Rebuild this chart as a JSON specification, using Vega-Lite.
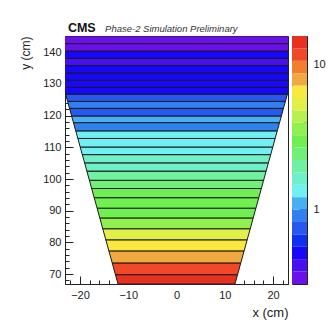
{
  "$schema": "https://vega.github.io/schema/vega-lite/v6.json",
  "background": "white",
  "padding": {"left": 19, "top": 21, "right": 0, "bottom": 0},
  "spacing": 2,
  "config": {
    "font": "Liberation Sans",
    "view": {"stroke": "#222", "strokeWidth": 1},
    "axis": {"zindex": 1, "labelOverlap": false, "labelFont": "Liberation Sans", "titleFont": "Liberation Sans", "labelColor": "#222", "titleColor": "#222", "tickColor": "#222", "domainColor": "#222", "grid": false}
  },
  "hconcat": [
    {
      "width": 223,
      "height": 248,
      "resolve": {"axis": {"x": "independent", "y": "independent"}},
      "layer": [
        {
          "data": {"values": [
            {"band": 29, "y": 66.85, "xl": -12.11, "xr": 12.11, "v": 14.3},
            {"band": 29, "y": 69.8, "xl": -12.65, "xr": 12.65, "v": 14.3},
            {"band": 28, "y": 69.8, "xl": -12.65, "xr": 12.65, "v": 11.7},
            {"band": 28, "y": 73.5, "xl": -13.32, "xr": 13.32, "v": 11.7},
            {"band": 27, "y": 73.5, "xl": -13.32, "xr": 13.32, "v": 7.9},
            {"band": 27, "y": 77.3, "xl": -14.01, "xr": 14.01, "v": 7.9},
            {"band": 26, "y": 77.3, "xl": -14.01, "xr": 14.01, "v": 6.5},
            {"band": 26, "y": 80.8, "xl": -14.64, "xr": 14.64, "v": 6.5},
            {"band": 25, "y": 80.8, "xl": -14.64, "xr": 14.64, "v": 5.3},
            {"band": 25, "y": 84.3, "xl": -15.28, "xr": 15.28, "v": 5.3},
            {"band": 24, "y": 84.3, "xl": -15.28, "xr": 15.28, "v": 3.6},
            {"band": 24, "y": 87.7, "xl": -15.89, "xr": 15.89, "v": 3.6},
            {"band": 23, "y": 87.7, "xl": -15.89, "xr": 15.89, "v": 3.1},
            {"band": 23, "y": 90.8, "xl": -16.45, "xr": 16.45, "v": 3.1},
            {"band": 22, "y": 90.8, "xl": -16.45, "xr": 16.45, "v": 3.0},
            {"band": 22, "y": 94.1, "xl": -17.05, "xr": 17.05, "v": 3.0},
            {"band": 21, "y": 94.1, "xl": -17.05, "xr": 17.05, "v": 2.9},
            {"band": 21, "y": 97.0, "xl": -17.58, "xr": 17.58, "v": 2.9},
            {"band": 20, "y": 97.0, "xl": -17.58, "xr": 17.58, "v": 2.5},
            {"band": 20, "y": 99.6, "xl": -18.05, "xr": 18.05, "v": 2.5},
            {"band": 19, "y": 99.6, "xl": -18.05, "xr": 18.05, "v": 2.0},
            {"band": 19, "y": 102.5, "xl": -18.57, "xr": 18.57, "v": 2.0},
            {"band": 18, "y": 102.5, "xl": -18.57, "xr": 18.57, "v": 1.62},
            {"band": 18, "y": 105.1, "xl": -19.04, "xr": 19.04, "v": 1.62},
            {"band": 17, "y": 105.1, "xl": -19.04, "xr": 19.04, "v": 1.65},
            {"band": 17, "y": 107.7, "xl": -19.52, "xr": 19.52, "v": 1.65},
            {"band": 16, "y": 107.7, "xl": -19.52, "xr": 19.52, "v": 1.3},
            {"band": 16, "y": 110.1, "xl": -19.95, "xr": 19.95, "v": 1.3},
            {"band": 15, "y": 110.1, "xl": -19.95, "xr": 19.95, "v": 1.4},
            {"band": 15, "y": 112.8, "xl": -20.44, "xr": 20.44, "v": 1.4},
            {"band": 14, "y": 112.8, "xl": -20.44, "xr": 20.44, "v": 1.35},
            {"band": 14, "y": 115.2, "xl": -20.87, "xr": 20.87, "v": 1.35},
            {"band": 13, "y": 115.2, "xl": -20.87, "xr": 20.87, "v": 0.92},
            {"band": 13, "y": 117.8, "xl": -21.35, "xr": 21.35, "v": 0.92},
            {"band": 12, "y": 117.8, "xl": -21.35, "xr": 21.35, "v": 1.1},
            {"band": 12, "y": 119.9, "xl": -21.73, "xr": 21.73, "v": 1.1},
            {"band": 11, "y": 119.9, "xl": -21.73, "xr": 21.73, "v": 0.75},
            {"band": 11, "y": 122.3, "xl": -22.16, "xr": 22.16, "v": 0.75},
            {"band": 10, "y": 122.3, "xl": -22.16, "xr": 22.16, "v": 0.9},
            {"band": 10, "y": 124.5, "xl": -22.56, "xr": 22.56, "v": 0.9},
            {"band": 9, "y": 124.5, "xl": -22.56, "xr": 22.56, "v": 0.74},
            {"band": 9, "y": 126.8, "xl": -22.98, "xr": 22.98, "v": 0.74},
            {"band": 8, "y": 126.8, "xl": -22.98, "xr": 22.98, "v": 0.55},
            {"band": 8, "y": 128.9, "xl": -23.36, "xr": 23.36, "v": 0.55},
            {"band": 7, "y": 128.9, "xl": -23.36, "xr": 23.36, "v": 0.51},
            {"band": 7, "y": 131.2, "xl": -23.77, "xr": 23.77, "v": 0.51},
            {"band": 6, "y": 131.2, "xl": -23.77, "xr": 23.77, "v": 0.52},
            {"band": 6, "y": 133.5, "xl": -24.19, "xr": 24.19, "v": 0.52},
            {"band": 5, "y": 133.5, "xl": -24.19, "xr": 24.19, "v": 0.5},
            {"band": 5, "y": 135.8, "xl": -24.61, "xr": 24.61, "v": 0.5},
            {"band": 4, "y": 135.8, "xl": -24.61, "xr": 24.61, "v": 0.41},
            {"band": 4, "y": 138.1, "xl": -25.02, "xr": 25.02, "v": 0.41},
            {"band": 3, "y": 138.1, "xl": -25.02, "xr": 25.02, "v": 0.5},
            {"band": 3, "y": 140.4, "xl": -25.44, "xr": 25.44, "v": 0.5},
            {"band": 2, "y": 140.4, "xl": -25.44, "xr": 25.44, "v": 0.35},
            {"band": 2, "y": 142.75, "xl": -25.87, "xr": 25.87, "v": 0.35},
            {"band": 1, "y": 142.75, "xl": -25.87, "xr": 25.87, "v": 0.34},
            {"band": 1, "y": 145.15, "xl": -26.3, "xr": 26.3, "v": 0.34}
          ]},
          "mark": {"type": "area", "orient": "horizontal", "clip": true, "stroke": "#1a1a1a", "strokeWidth": 1, "opacity": 1},
          "encoding": {
            "y": {"field": "y", "type": "quantitative", "scale": {"domain": [66.85, 145.15], "nice": false, "zero": false},
              "axis": {"title": "y (cm)", "titleAnchor": "end", "titleFontSize": 12, "titleFontWeight": "normal", "titlePadding": 10,
                "values": [68,70,72,74,76,78,80,82,84,86,88,90,92,94,96,98,100,102,104,106,108,110,112,114,116,118,120,122,124,126,128,130,132,134,136,138,140,142,144],
                "labelExpr": "datum.value % 10 === 0 ? datum.label : ''", "labelOverlap": false, "labelFontSize": 11, "labelPadding": 12,
                "tickSize": {"condition": {"test": "datum.value % 10 === 0", "value": -8}, "value": -4}}},
            "x": {"field": "xl", "type": "quantitative", "scale": {"domain": [-23.1, 23.1], "nice": false, "zero": false},
              "axis": {"title": "x (cm)", "titleAnchor": "end", "titleFontSize": 13, "titleFontWeight": "normal", "titlePadding": 2,
                "values": [-22,-20,-18,-16,-14,-12,-10,-8,-6,-4,-2,0,2,4,6,8,10,12,14,16,18,20,22],
                "labelExpr": "datum.value % 10 === 0 ? datum.label : ''", "labelOverlap": false, "labelFontSize": 11, "labelPadding": 13,
                "tickSize": {"condition": {"test": "datum.value % 10 === 0", "value": -8}, "value": -4}}},
            "x2": {"field": "xr"},
            "detail": {"field": "band"},
            "color": {"field": "v", "type": "quantitative", "legend": null,
              "scale": {"type": "threshold",
                "domain": [0.3727,0.4541,0.5529,0.6733,0.8198,0.9981,1.2153,1.4799,1.802,2.1942,2.6718,3.2533,3.9614,4.8236,5.8735,7.1518,8.7085,10.604,12.912],
                "range": ["#6a10e8","#4810f0","#1808f8","#1030f0","#2858f0","#3080f0","#48b0f0","#70f0f0","#70f0c8","#70f0a0","#70f078","#70f050","#90f050","#b8f050","#e0f048","#f8e840","#f0a840","#f08030","#f04828","#e83020"]}}
          }
        },
        {
          "data": {"values": [{"label": "CMS"}]},
          "mark": {"type": "text", "clip": false, "align": "left", "baseline": "alphabetic", "fontWeight": "bold", "fontSize": 12.5, "color": "#111"},
          "encoding": {
            "x": {"datum": -22.5, "type": "quantitative", "axis": null},
            "y": {"datum": 146.3, "type": "quantitative", "axis": null},
            "text": {"field": "label"}
          }
        },
        {
          "data": {"values": [{"label": "Phase-2 Simulation Preliminary"}]},
          "mark": {"type": "text", "clip": false, "align": "left", "baseline": "alphabetic", "fontStyle": "italic", "fontSize": 9.5, "color": "#333"},
          "encoding": {
            "x": {"datum": -14.8, "type": "quantitative", "axis": null},
            "y": {"datum": 146.3, "type": "quantitative", "axis": null},
            "text": {"field": "label"}
          }
        }
      ]
    },
    {
      "width": 15,
      "height": 248,
      "data": {"values": [
        {"lo": 0.306, "hi": 0.3727, "v": 0.338},
        {"lo": 0.3727, "hi": 0.4541, "v": 0.411},
        {"lo": 0.4541, "hi": 0.5529, "v": 0.501},
        {"lo": 0.5529, "hi": 0.6733, "v": 0.61},
        {"lo": 0.6733, "hi": 0.8198, "v": 0.743},
        {"lo": 0.8198, "hi": 0.9981, "v": 0.905},
        {"lo": 0.9981, "hi": 1.2153, "v": 1.102},
        {"lo": 1.2153, "hi": 1.4799, "v": 1.341},
        {"lo": 1.4799, "hi": 1.802, "v": 1.634},
        {"lo": 1.802, "hi": 2.1942, "v": 1.989},
        {"lo": 2.1942, "hi": 2.6718, "v": 2.422},
        {"lo": 2.6718, "hi": 3.2533, "v": 2.949},
        {"lo": 3.2533, "hi": 3.9614, "v": 3.592},
        {"lo": 3.9614, "hi": 4.8236, "v": 4.372},
        {"lo": 4.8236, "hi": 5.8735, "v": 5.325},
        {"lo": 5.8735, "hi": 7.1518, "v": 6.482},
        {"lo": 7.1518, "hi": 8.7085, "v": 7.894},
        {"lo": 8.7085, "hi": 10.604, "v": 9.614},
        {"lo": 10.604, "hi": 12.912, "v": 11.7},
        {"lo": 12.912, "hi": 15.73, "v": 14.26}
      ]},
      "mark": {"type": "rect"},
      "encoding": {
        "y": {"field": "lo", "type": "quantitative", "scale": {"type": "log", "domain": [0.306, 15.73], "nice": false},
          "axis": {"orient": "right", "title": null, "values": [0.4,0.5,0.6,0.7,0.8,0.9,1,2,3,4,5,6,7,8,9,10],
            "labelExpr": "datum.value === 1 || datum.value === 10 ? format(datum.value, 'd') : ''", "labelOverlap": false, "labelFontSize": 11, "labelPadding": 14,
            "tickSize": {"condition": {"test": "datum.value === 1 || datum.value === 10", "value": -8}, "value": -4}}},
        "y2": {"field": "hi"},
        "color": {"field": "v", "type": "quantitative", "legend": null,
          "scale": {"type": "threshold",
            "domain": [0.3727,0.4541,0.5529,0.6733,0.8198,0.9981,1.2153,1.4799,1.802,2.1942,2.6718,3.2533,3.9614,4.8236,5.8735,7.1518,8.7085,10.604,12.912],
            "range": ["#6a10e8","#4810f0","#1808f8","#1030f0","#2858f0","#3080f0","#48b0f0","#70f0f0","#70f0c8","#70f0a0","#70f078","#70f050","#90f050","#b8f050","#e0f048","#f8e840","#f0a840","#f08030","#f04828","#e83020"]}}
      }
    }
  ]
}
